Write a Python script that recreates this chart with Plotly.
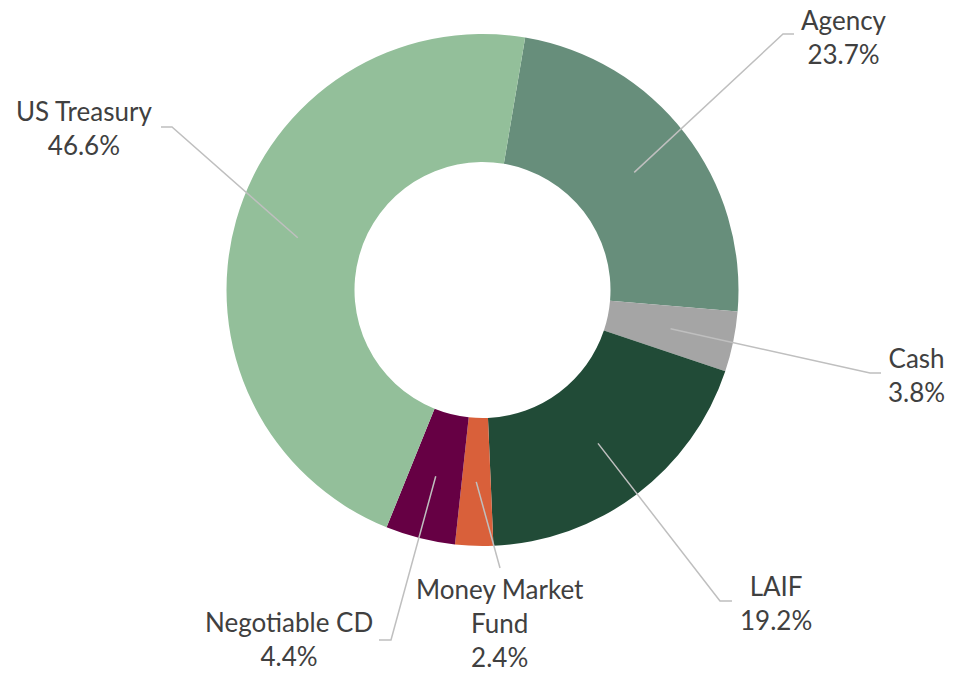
import math
import plotly.graph_objects as go

# ---- data ----
categories = ["Agency", "Cash", "LAIF", "Money Market Fund", "Negotiable CD", "US Treasury"]
label_text = ["Agency", "Cash", "LAIF", "Money Market<br>Fund", "Negotiable CD", "US Treasury"]
percent = [23.7, 3.8, 19.2, 2.4, 4.4, 46.6]

# ---- style ----
colors = ["#678E7B", "#A5A5A5", "#214B37", "#D9603A", "#660044", "#93BF9A"]
W, H = 967, 673
CX, CY, R = 482.5, 290.0, 256.0
HOLE = 0.5
ROTATION = 9.6
TEXT_COLOR = "#404040"
LINE_COLOR = "#BFBFBF"
FONT = "Lato"
FSIZE = 26

# label block centres and leader-line elbow / end points (pixels)
label_pos = [(844, 37), (916, 375), (776, 603), (500, 623), (289, 639), (84, 128)]
leader_pts = [
    [(783, 34), (794, 34)],
    [(870, 373), (881, 373)],
    [(720, 601), (732, 601)],
    [(500, 568)],
    [(391, 640), (379, 640)],
    [(172, 127), (161, 127)],
]

def px(x):
    return x / W

def py(y):
    return 1 - y / H

fig = go.Figure(go.Pie(
    labels=categories,
    values=percent,
    hole=HOLE,
    sort=False,
    direction="clockwise",
    rotation=ROTATION,
    marker=dict(colors=colors, line=dict(width=0)),
    textinfo="none",
    hoverinfo="label+percent",
    showlegend=False,
    domain=dict(x=[px(CX - R), px(CX + R)], y=[py(CY + R), py(CY - R)]),
))

total = sum(percent)
cum = 0.0
shapes = []
annotations = []
for i, v in enumerate(percent):
    mid = ROTATION + (cum + v / 2) / total * 360.0
    cum += v
    rm = R * (1 + HOLE) / 2
    sx = CX + rm * math.sin(math.radians(mid))
    sy = CY - rm * math.cos(math.radians(mid))
    pts = [(sx, sy)] + leader_pts[i]
    path = "M " + " L ".join(f"{px(a):.5f},{py(b):.5f}" for a, b in pts)
    shapes.append(dict(type="path", path=path, xref="paper", yref="paper",
                       line=dict(color=LINE_COLOR, width=1.5)))
    lx, ly = label_pos[i]
    annotations.append(dict(
        x=px(lx), y=py(ly), xref="paper", yref="paper",
        text=f"{label_text[i]}<br>{v:.1f}%", showarrow=False,
        xanchor="center", yanchor="middle", align="center",
        font=dict(family=FONT, size=FSIZE, color=TEXT_COLOR),
    ))

fig.update_layout(
    width=W, height=H,
    margin=dict(l=0, r=0, t=0, b=0),
    paper_bgcolor="white", plot_bgcolor="white",
    shapes=shapes, annotations=annotations,
)

fig.write_html(
    "out.html",
    config={"displayModeBar": False},
    post_script="document.body.style.margin='0';document.body.style.overflow='hidden';",
)
